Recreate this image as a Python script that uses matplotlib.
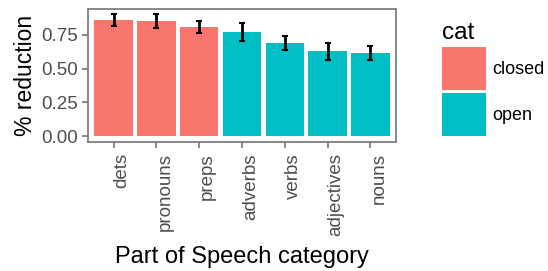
import numpy as np
import matplotlib.pyplot as plt
from matplotlib.patches import Patch

plt.rcParams['font.family'] = ['Liberation Sans', 'DejaVu Sans']

# data
pos = ["dets", "pronouns", "preps", "adverbs", "verbs", "adjectives", "nouns"]
cat = ["closed", "closed", "closed", "open", "open", "open", "open"]
reduction = [0.861, 0.854, 0.810, 0.772, 0.690, 0.631, 0.616]
err = [0.046, 0.050, 0.042, 0.065, 0.055, 0.063, 0.050]

colors = {"closed": "#F8766D", "open": "#00BFC4"}

fig = plt.figure(figsize=(5.48, 2.71), dpi=100)
ax = fig.add_axes([88/548, 1-142/271, (396-88)/548, (142-9)/271])

x = np.arange(len(pos))
ax.bar(x, reduction, width=0.9, color=[colors[c] for c in cat])
ax.errorbar(x, reduction, yerr=err, fmt='none', ecolor='black',
            elinewidth=2, capsize=2.5, capthick=1.5)

ax.set_xlim(-0.6, len(pos) - 0.4)
ax.set_ylim(-0.0445, 0.943)
ax.set_yticks([0, 0.25, 0.5, 0.75])
ax.set_yticklabels(["0.00", "0.25", "0.50", "0.75"])
ax.set_xticks(x)
ax.set_xticklabels(pos, rotation=90, ha='left', va='top')

for s in ax.spines.values():
    s.set_color('#7f7f7f')
    s.set_linewidth(1.3)
ax.tick_params(colors='#7f7f7f', labelcolor='#4d4d4d', labelsize=13.5,
               length=4, width=1.3)
ax.tick_params(axis='x', pad=4)
ax.tick_params(axis='y', pad=3)

ax.set_ylabel("% reduction", fontsize=16.5, labelpad=3)
ax.set_xlabel("Part of Speech category", fontsize=17, labelpad=7)

handles = [Patch(facecolor=colors[c], edgecolor='none') for c in ["closed", "open"]]
leg = fig.legend(handles, ["closed", "open"], title="cat", loc='upper left',
                 bbox_to_anchor=(428/548, 1-8/271), frameon=False,
                 fontsize=13, title_fontsize=17.5, handlelength=2.4,
                 handleheight=3.3, labelspacing=0.15, handletextpad=0.35,
                 borderpad=0.3)
leg._legend_box.align = "left"

fig.savefig("out.png", dpi=100)
